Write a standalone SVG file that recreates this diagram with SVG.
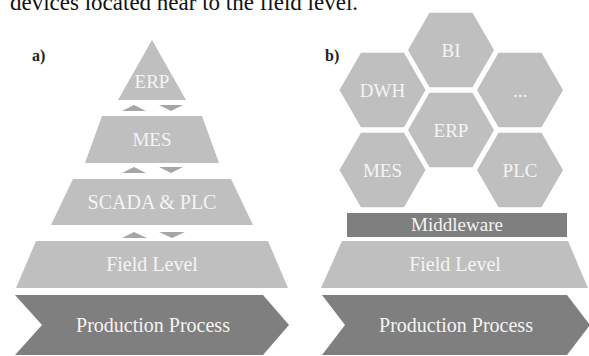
<svg xmlns="http://www.w3.org/2000/svg" width="589" height="356" viewBox="0 0 589 356">
<style>
.lt{fill:#bfbfbf}
.dk{fill:#7f7f7f}
.ar{fill:#a6a6a6}
.t{font-family:"Liberation Serif","Times New Roman",serif;font-size:19px;fill:#f4f4f4;text-anchor:middle}
.tb{font-family:"Liberation Serif","Times New Roman",serif;font-size:20px;fill:#f4f4f4;text-anchor:middle}
.lbl{font-family:"Liberation Serif","Times New Roman",serif;font-size:16px;font-weight:bold;fill:#222}
.cap{font-family:"Liberation Serif","Times New Roman",serif;font-size:23px;fill:#111}
</style>
<rect width="589" height="356" fill="#fff"/>
<text class="cap" x="10" y="10">devices located near to the field level.</text>
<text class="lbl" x="32" y="61">a)</text>
<text class="lbl" x="325" y="61">b)</text>

<g id="a-erp"><polygon class="lt" points="152,40 186,100 118,100"/><text class="t" x="152" y="88">ERP</text></g>
<g id="a-mes"><polygon class="lt" points="102,116 202,116 219,163 85,163"/><text class="t" x="152" y="146">MES</text></g>
<g id="a-scada"><polygon class="lt" points="73,179 231,179 253,225 51,225"/><text class="tb" x="152" y="209">SCADA &amp; PLC</text></g>
<g id="a-field"><polygon class="lt" points="36,241 268,241 288,288 16,288"/><text class="tb" x="152" y="271">Field Level</text></g>
<g id="a-prod"><polygon class="dk" points="15,295 263,295 289,325 263,355 15,355 42,325"/><text class="tb" x="153" y="332">Production Process</text></g>

<g id="connectors">
<polygon class="ar" points="122,111 134,105 146,111"/>
<polygon class="ar" points="159,105 183,105 171,111"/>
<polygon class="ar" points="122,173 134,167 146,173"/>
<polygon class="ar" points="159,167 183,167 171,173"/>
<polygon class="ar" points="122,238 134,232 147,238"/>
<polygon class="ar" points="159,232 185,232 172,238"/>
</g>

<g id="b-bi"><polygon class="lt" points="408,50 429.5,12.8 472.5,12.8 494,50 472.5,87.2 429.5,87.2"/><text class="t" x="451" y="57">BI</text></g>
<g id="b-dwh"><polygon class="lt" points="339.5,90 361,52.8 404,52.8 425.5,90 404,127.2 361,127.2"/><text class="t" x="382.5" y="97">DWH</text></g>
<g id="b-more"><polygon class="lt" points="477,90 498.5,52.8 541.5,52.8 563,90 541.5,127.2 498.5,127.2"/><text class="t" x="520" y="97">...</text></g>
<g id="b-erp"><polygon class="lt" points="408,130 429.5,92.8 472.5,92.8 494,130 472.5,167.2 429.5,167.2"/><text class="t" x="451" y="137">ERP</text></g>
<g id="b-mes"><polygon class="lt" points="339.5,170 361,132.8 404,132.8 425.5,170 404,207.2 361,207.2"/><text class="t" x="382.5" y="177">MES</text></g>
<g id="b-plc"><polygon class="lt" points="477,170 498.5,132.8 541.5,132.8 563,170 541.5,207.2 498.5,207.2"/><text class="t" x="520" y="177">PLC</text></g>
<g id="b-mw"><rect class="dk" x="347" y="213" width="220" height="24"/><text class="t" x="457" y="231">Middleware</text></g>
<g id="b-field"><polygon class="lt" points="342,241 568,241 588,288 321,288"/><text class="tb" x="455" y="271">Field Level</text></g>
<g id="b-prod"><polygon class="dk" points="322,295 567,295 590,325 567,355 322,355 345,325"/><text class="tb" x="456" y="332">Production Process</text></g>
</svg>
